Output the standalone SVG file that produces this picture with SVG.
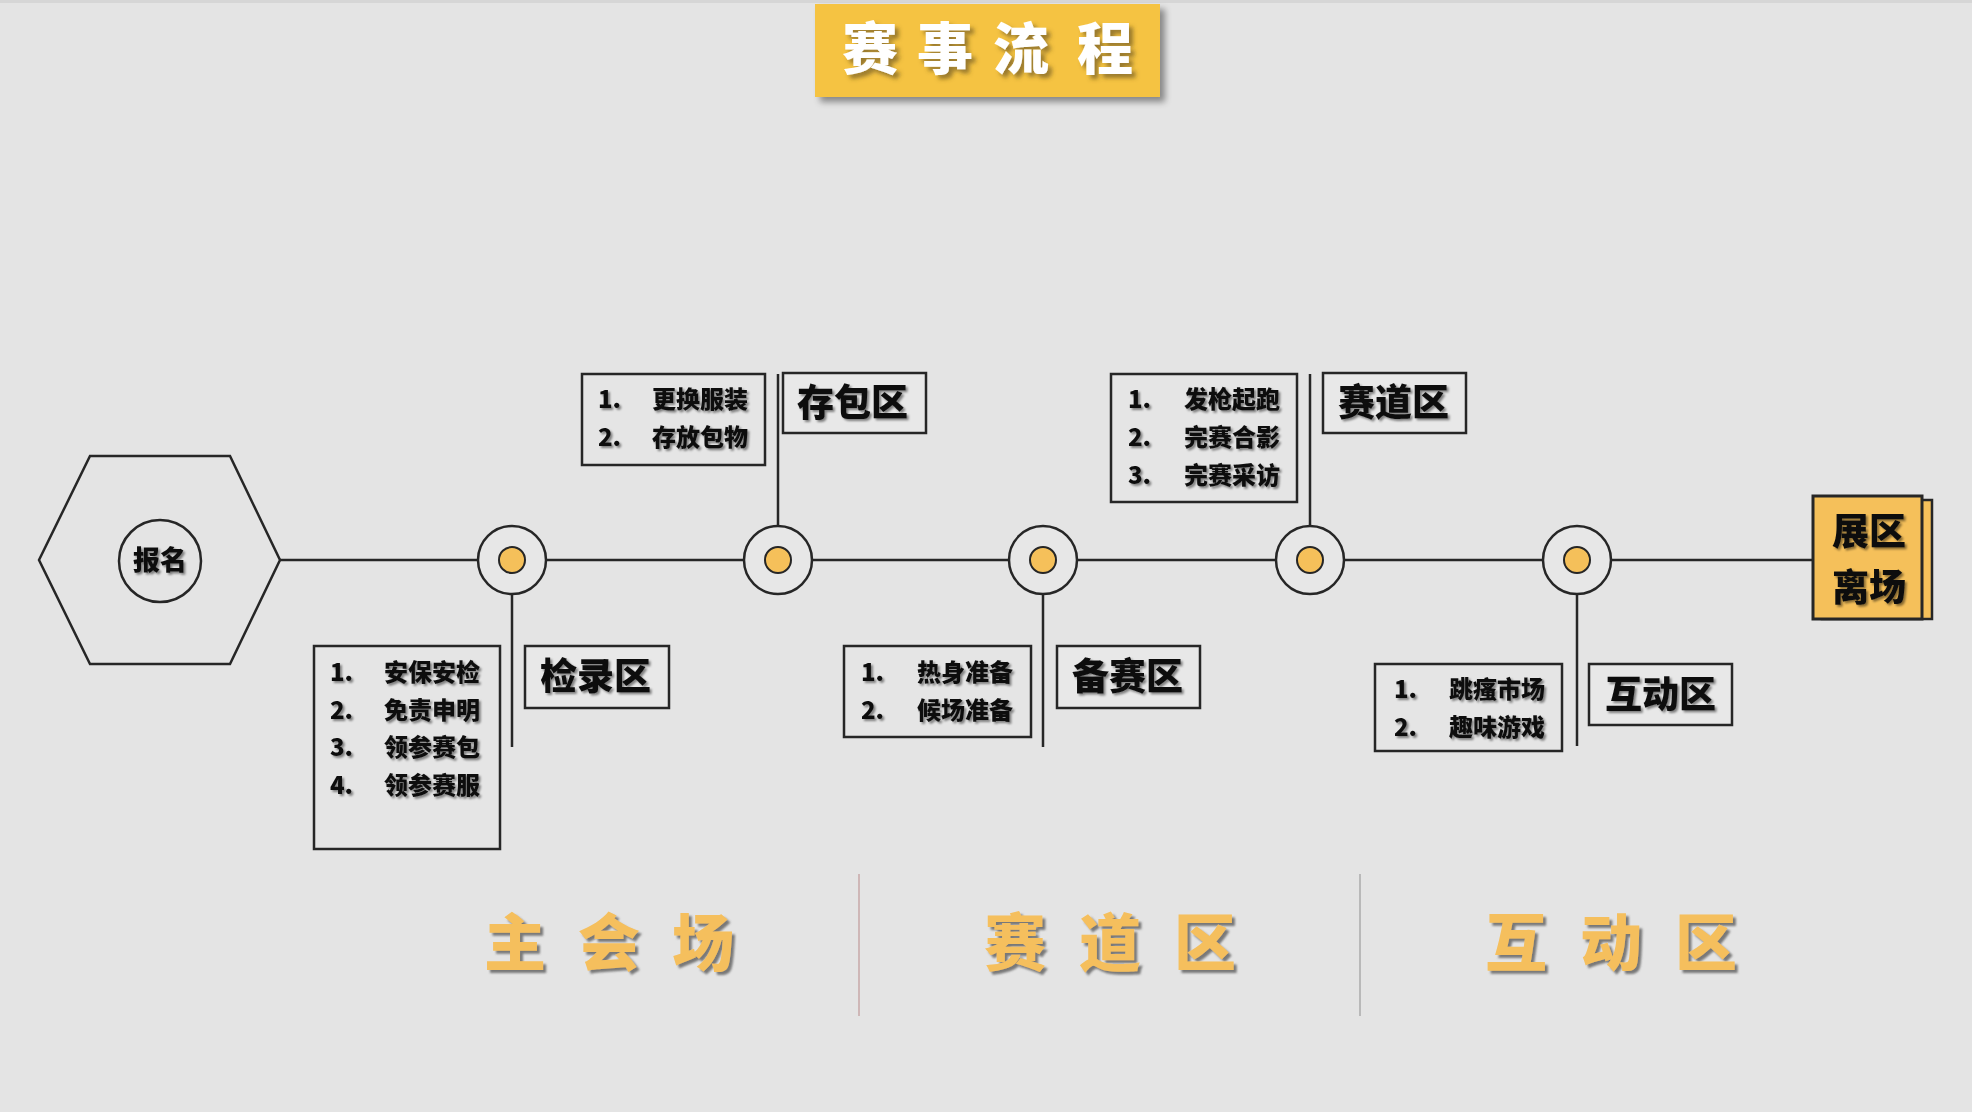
<svg xmlns="http://www.w3.org/2000/svg" width="1972" height="1112" viewBox="0 0 1972 1112">
<defs>
<style>
.ln{stroke:#262626;stroke-width:2.5;fill:none}
.box{fill:#e5e5e5;stroke:#262626;stroke-width:2.5}
.lbox{fill:#e8e8e8;stroke:#262626;stroke-width:2.5}
.t{font-family:"Noto Sans CJK SC","Liberation Sans",sans-serif;font-weight:900;fill:#111}
.li{font-size:24px}
.lb{font-size:37px}
.ring{fill:#e7e7e7;stroke:#262626;stroke-width:2.5}
.dot{fill:#f5c05a;stroke:#262626;stroke-width:2}
.big{font-family:"Noto Sans CJK SC","Liberation Sans",sans-serif;font-weight:900;font-size:62px;fill:#f5bf5d}
</style>
<filter id="ts" x="-10%" y="-20%" width="130%" height="150%"><feDropShadow dx="2" dy="2" stdDeviation="1.2" flood-color="#000" flood-opacity="0.45"/></filter>
<filter id="bs" x="-10%" y="-10%" width="130%" height="130%"><feDropShadow dx="3" dy="3" stdDeviation="0.8" flood-color="#555" flood-opacity="0.75"/></filter>
<filter id="tts" x="-10%" y="-20%" width="130%" height="150%"><feDropShadow dx="4" dy="4" stdDeviation="2" flood-color="#5a4a20" flood-opacity="0.6"/></filter>
<filter id="boxs" x="-10%" y="-20%" width="130%" height="150%"><feDropShadow dx="5" dy="5" stdDeviation="3" flood-color="#000" flood-opacity="0.4"/></filter>
</defs>
<rect x="0" y="0" width="1972" height="1112" fill="#e4e4e4"/>
<rect x="0" y="0" width="1972" height="3" fill="#d6d6d6"/>

<g id="title">
<rect x="815" y="4" width="345" height="93" fill="#f5c343" filter="url(#boxs)"/>
<text x="842 917 993 1077" y="69" font-family="Noto Sans CJK SC, sans-serif" font-weight="900" font-size="56" fill="#fff" filter="url(#tts)">赛事流程</text>
</g>

<g id="connectors">
<line class="ln" x1="280" y1="560" x2="1813" y2="560"/>
<line class="ln" x1="512" y1="594" x2="512" y2="747"/>
<line class="ln" x1="778" y1="526" x2="778" y2="374"/>
<line class="ln" x1="1043" y1="594" x2="1043" y2="747"/>
<line class="ln" x1="1310" y1="526" x2="1310" y2="374"/>
<line class="ln" x1="1577" y1="594" x2="1577" y2="746"/>
</g>

<g id="start">
<polygon class="ln" points="39,560 90,456 230,456 280,560 230,664 90,664"/>
<circle class="ln" cx="160" cy="561" r="41"/>
<text class="t" x="160" y="570" font-size="27" text-anchor="middle" filter="url(#ts)">报名</text>
</g>

<g id="c1"><circle class="ring" cx="512" cy="560" r="34"/><circle class="dot" cx="512" cy="560" r="13"/></g>
<g id="c2"><circle class="ring" cx="778" cy="560" r="34"/><circle class="dot" cx="778" cy="560" r="13"/></g>
<g id="c3"><circle class="ring" cx="1043" cy="560" r="34"/><circle class="dot" cx="1043" cy="560" r="13"/></g>
<g id="c4"><circle class="ring" cx="1310" cy="560" r="34"/><circle class="dot" cx="1310" cy="560" r="13"/></g>
<g id="c5"><circle class="ring" cx="1577" cy="560" r="34"/><circle class="dot" cx="1577" cy="560" r="13"/></g>

<g id="jianlu">
<rect class="box" x="314" y="646" width="186" height="203"/>
<g class="t li" filter="url(#ts)">
<text x="330" y="681">1.</text><text x="384" y="681">安保安检</text>
<text x="330" y="719">2.</text><text x="384" y="719">免责申明</text>
<text x="330" y="756">3.</text><text x="384" y="756">领参赛包</text>
<text x="330" y="794">4.</text><text x="384" y="794">领参赛服</text>
</g>
<rect class="lbox" x="525" y="646" width="144" height="62"/>
<text class="t lb" x="540" y="690" filter="url(#ts)">检录区</text>
</g>

<g id="cunbao">
<rect class="box" x="582" y="374" width="183" height="91"/>
<g class="t li" filter="url(#ts)">
<text x="598" y="408">1.</text><text x="652" y="408">更换服装</text>
<text x="598" y="446">2.</text><text x="652" y="446">存放包物</text>
</g>
<rect class="lbox" x="783" y="373" width="143" height="60"/>
<text class="t lb" x="797" y="416" filter="url(#ts)">存包区</text>
</g>

<g id="beisai">
<rect class="box" x="844" y="646" width="187" height="91"/>
<g class="t li" filter="url(#ts)">
<text x="861" y="681">1.</text><text x="917" y="681">热身准备</text>
<text x="861" y="719">2.</text><text x="917" y="719">候场准备</text>
</g>
<rect class="lbox" x="1057" y="646" width="143" height="62"/>
<text class="t lb" x="1072" y="690" filter="url(#ts)">备赛区</text>
</g>

<g id="saidao">
<rect class="box" x="1111" y="374" width="186" height="128"/>
<g class="t li" filter="url(#ts)">
<text x="1128" y="408">1.</text><text x="1184" y="408">发枪起跑</text>
<text x="1128" y="446">2.</text><text x="1184" y="446">完赛合影</text>
<text x="1128" y="484">3.</text><text x="1184" y="484">完赛采访</text>
</g>
<rect class="lbox" x="1323" y="373" width="143" height="60"/>
<text class="t lb" x="1338" y="416" filter="url(#ts)">赛道区</text>
</g>

<g id="hudong">
<rect class="box" x="1375" y="664" width="187" height="87"/>
<g class="t li" filter="url(#ts)">
<text x="1394" y="698">1.</text><text x="1449" y="698">跳瘙市场</text>
<text x="1394" y="736">2.</text><text x="1449" y="736">趣味游戏</text>
</g>
<rect class="lbox" x="1589" y="664" width="143" height="61"/>
<text class="t lb" x="1605" y="708" filter="url(#ts)">互动区</text>
</g>

<g id="exit">
<rect x="1822" y="500" width="110" height="119" fill="#f5c05a" stroke="#262626" stroke-width="2.5"/>
<rect x="1813" y="496" width="109" height="123" fill="#f5c05a" stroke="#262626" stroke-width="3"/>
<g class="t lb" text-anchor="middle" filter="url(#ts)">
<text x="1869" y="545">展区</text>
<text x="1869" y="601">离场</text>
</g>
</g>

<g id="zones">
<line x1="859" y1="874" x2="859" y2="1016" stroke="#b98a8a" stroke-width="1"/>
<line x1="1360" y1="874" x2="1360" y2="1016" stroke="#8e8e8e" stroke-width="1"/>
<g filter="url(#bs)">
<text class="big" x="484 578 672" y="966">主会场</text>
<text class="big" x="984 1079 1174" y="966">赛道区</text>
<text class="big" x="1485 1580 1675" y="966">互动区</text>
</g>
</g>
</svg>
